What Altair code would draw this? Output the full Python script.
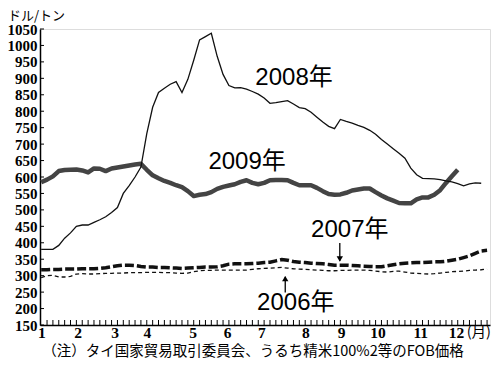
import altair as alt
import pandas as pd

# x = index of the price report (one axis tick per report), starting at -1 (the y axis)
v2006 = [294, 300, 301, 296, 296, 298, 305, 306, 305, 305,
         306, 307, 307, 308, 308, 309, 309, 309, 310, 310,
         310, 309, 309, 308, 307, 308, 312, 315, 316, 316,
         317, 317, 317, 317, 317, 317, 319, 321, 322, 323,
         324, 325, 323, 321, 320, 319, 318, 317, 316, 315,
         315, 316, 316, 317, 317, 317, 316, 314, 312, 311,
         313, 314, 311, 308, 307, 306, 305, 306, 308, 310,
         312, 313, 314, 316, 317, 318, 320]
v2007 = [318, 318, 319, 319, 320, 320, 320, 321, 321, 321,
         322, 324, 327, 330, 332, 332, 331, 328, 326, 326,
         325, 325, 324, 323, 322, 323, 324, 325, 326, 326,
         327, 330, 335, 336, 336, 336, 337, 338, 340, 341,
         345, 349, 347, 343, 341, 340, 338, 337, 336, 334,
         332, 332, 332, 331, 330, 329, 328, 327, 327, 330,
         333, 336, 338, 339, 340, 340, 341, 342, 342, 344,
         347, 350, 355, 360, 368, 375, 377]
v2008 = [380, 380, 380, 392, 414, 430, 450, 454, 454, 462,
         470, 479, 492, 507, 550, 574, 600, 630, 732, 812,
         857, 870, 882, 890, 857, 897, 955, 1017, 1027, 1037,
         967, 912, 878, 871, 872, 867, 860, 852, 840, 824,
         826, 829, 832, 822, 811, 808, 797, 782, 767, 754,
         747, 775, 769, 764, 757, 751, 742, 730, 714, 700,
         686, 672, 657, 627, 607, 596, 595, 594, 592, 588,
         585, 580, 573, 579, 582, 581]
v2009 = [584, 592, 602, 618, 621, 622, 623, 620, 614, 626,
         625, 618, 626, 629, 632, 635, 638, 640, 622, 605,
         596, 588, 582, 575, 569, 557, 542, 546, 548, 554,
         564, 570, 574, 578, 585, 590, 582, 578, 582, 590,
         591, 591, 590, 582, 575, 575, 575, 567, 557, 548,
         546, 547, 552, 559, 562, 565, 565, 554, 544, 535,
         528, 521, 520, 520, 532, 538, 538, 546, 560, 582,
         602, 622]

month_labels = ["1", "2", "3", "4", "5", "6", "7", "8", "9", "10", "11", "12"]
month_pos = [-0.9, 5.3, 11.6, 17.1, 24.9, 30.8, 36.6, 44.1, 50.2, 56.4, 63.7, 69.8]
unit_x_label = ["(月)"]
unit_x_pos = [73.6]
y_ticks = list(range(150, 1051, 50))
x_ticks = list(range(0, 76))

ann_text = ["2008年", "2009年", "2007年", "2006年"]
ann_x = [42.1, 34.1, 51.6, 42.4]
ann_y = [900, 645, 438, 216]

arrow_x = [49.9, 40.6]
arrow_from = [399, 249]
arrow_to = [345, 297]
arrow_head_y = [351, 291]
arrow_shape = ["triangle-down", "triangle-up"]

SERIF = "Liberation Serif, Times New Roman, serif"
W, H = 450, 296
xscale = alt.Scale(domain=[-1.2, 75.5], nice=False, zero=False)
yscale = alt.Scale(domain=[150, 1050], nice=False, zero=False)
xaxis = alt.Axis(values=[], labels=False, ticks=False, grid=False, title=None,
                 domainColor="black", domainWidth=1.5)
yaxis = alt.Axis(values=y_ticks, format="d", ticks=False, grid=False, title=None,
                 labelFont=SERIF, labelFontSize=15, labelFontWeight="bold",
                 labelColor="black", labelPadding=3, labelFlush=False,
                 labelOverlap=False, domainColor="black", domainWidth=1.5)


def X(f):
    return alt.X(f, type="quantitative", scale=xscale, axis=xaxis)


def Y(f):
    return alt.Y(f, type="quantitative", scale=yscale, axis=yaxis)


def series(vals):
    return pd.DataFrame({"i": list(range(-1, -1 + len(vals))), "v": vals})


ytick_layer = alt.Chart(pd.DataFrame({"v": y_ticks})).mark_rule(
    color="black", strokeWidth=1).encode(y=Y("v"), x=alt.value(0), x2=alt.value(4))
xtick_layer = alt.Chart(pd.DataFrame({"i": x_ticks})).mark_rule(
    color="black", strokeWidth=1).encode(x=X("i"), y=alt.value(H), y2=alt.value(H - 5))

l2006 = alt.Chart(series(v2006)).mark_line(
    color="#111111", strokeWidth=1.3, strokeDash=[4, 3]).encode(x=X("i"), y=Y("v"))
l2007 = alt.Chart(series(v2007)).mark_line(
    color="#111111", strokeWidth=3.5, strokeDash=[9, 3]).encode(x=X("i"), y=Y("v"))
l2009 = alt.Chart(series(v2009)).mark_line(
    color="#444444", strokeWidth=4.5, strokeJoin="round").encode(x=X("i"), y=Y("v"))
l2008 = alt.Chart(series(v2008)).mark_line(
    color="#111111", strokeWidth=1.3).encode(x=X("i"), y=Y("v"))

ann = alt.Chart(pd.DataFrame({"t": ann_text, "x": ann_x, "y": ann_y})).mark_text(
    font="Liberation Sans, Noto Sans CJK JP", fontSize=24, color="black",
    align="center", baseline="middle").encode(x=X("x"), y=Y("y"), text="t:N")

arrows_df = pd.DataFrame({"x": arrow_x, "y1": arrow_from, "y2": arrow_to,
                          "hy": arrow_head_y, "s": arrow_shape})
arrow_lines = alt.Chart(arrows_df).mark_rule(color="black", strokeWidth=1.3).encode(
    x=X("x"), y=Y("y1"), y2="y2:Q")
arrow_heads = alt.Chart(arrows_df).mark_point(
    filled=True, color="black", size=40, opacity=1).encode(
    x=X("x"), y=Y("hy"), shape=alt.Shape("s:N", scale=None, legend=None))

months = alt.Chart(pd.DataFrame({"m": month_labels, "x": month_pos})).mark_text(
    font=SERIF, fontSize=15.5, fontWeight="bold", color="black",
    align="center", baseline="middle").encode(x=X("x"), y=alt.value(H + 7.5), text="m:N")

month_unit = alt.Chart(pd.DataFrame({"m": unit_x_label, "x": unit_x_pos})).mark_text(
    font="Noto Sans CJK JP", fontSize=14.5, color="black",
    align="center", baseline="middle").encode(x=X("x"), y=alt.value(H + 7.5), text="m:N")

unit = alt.Chart(pd.DataFrame({"t": ["ドル/トン"]})).mark_text(
    font="Noto Sans CJK JP", fontSize=13, color="black", align="left",
    baseline="top").encode(x=alt.value(-32), y=alt.value(-19.5), text="t:N")

note = alt.Chart(pd.DataFrame({"t": ["（注）タイ国家貿易取引委員会、うるち精米100%2等のFOB価格"]})).mark_text(
    font="Noto Sans CJK JP", fontSize=14.5, color="black", align="center",
    baseline="middle").encode(x=alt.value(213), y=alt.value(H + 27), text="t:N")

chart = alt.layer(
    ytick_layer, xtick_layer, l2006, l2007, l2009, l2008,
    ann, arrow_lines, arrow_heads, months, month_unit, unit, note
).properties(
    width=W, height=H,
    autosize=alt.AutoSizeParams(type="none"),
    padding={"left": 32, "top": 21, "right": 2, "bottom": 35},
).configure_view(strokeWidth=0).configure(background="white")

chart.save("out.html", embed_options={"renderer": "svg", "actions": False})
